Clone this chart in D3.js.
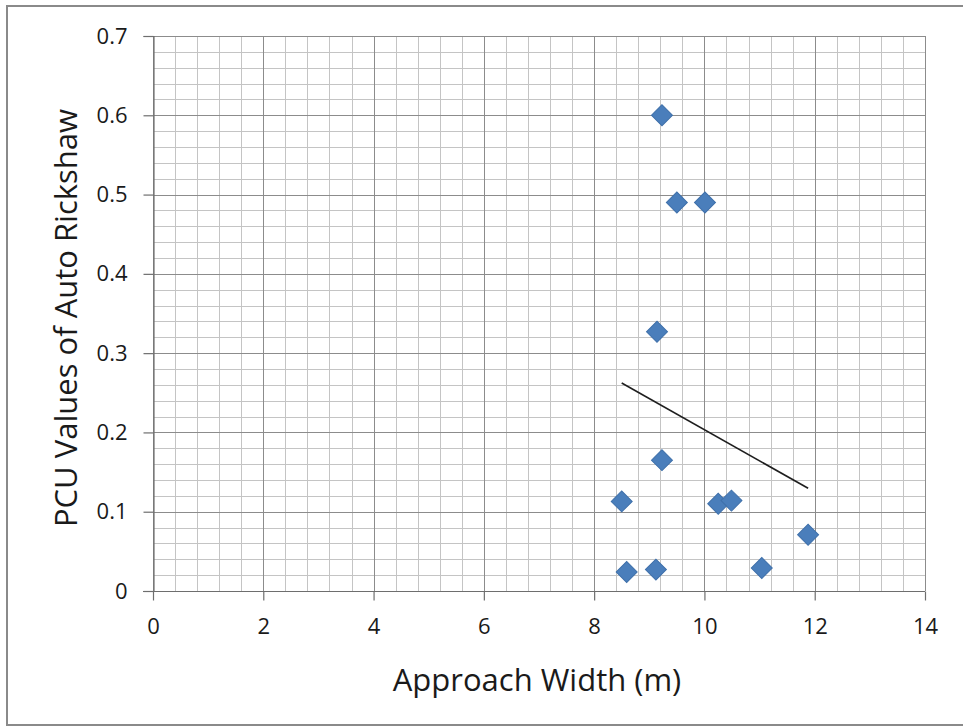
<!DOCTYPE html>
<html>
<head>
<meta charset="utf-8">
<script src="https://cdn.jsdelivr.net/npm/d3@7"></script>
<style>
  html, body { margin: 0; padding: 0; background: #ffffff; }
  svg { display: block; }
  text { font-family: "Open Sans", "DejaVu Sans", sans-serif; fill: #1a1a1a; }
</style>
</head>
<body>
<svg id="chart" width="963" height="727"></svg>
<script>
// Approach width (m) and PCU value of auto rickshaw for each observation
const approachWidth = [9.23, 9.50, 10.01, 9.14, 9.23, 8.50, 10.25, 10.49, 11.88, 8.59, 9.12, 11.04];
const pcuValues     = [0.600, 0.490, 0.490, 0.327, 0.165, 0.113, 0.110, 0.114, 0.071, 0.024, 0.027, 0.029];

// Axis ticks
const xTicks = [0, 2, 4, 6, 8, 10, 12, 14];
const yTicks = [0, 0.1, 0.2, 0.3, 0.4, 0.5, 0.6, 0.7];
const xMinorTicks = d3.range(0, 14.0001, 0.4);
const yMinorTicks = d3.range(0, 0.70001, 0.02);

const xTitle = "Approach Width (m)";
const yTitle = "PCU Values of Auto Rickshaw";

const svg = d3.select("#chart");

const x = d3.scaleLinear().domain([0, 14]).range([153, 925]);
const y = d3.scaleLinear().domain([0, 0.7]).range([591, 36]);

// Frame around the chart
svg.append("rect")
  .attr("x", 7).attr("y", 6)
  .attr("width", 980).attr("height", 719)
  .attr("fill", "none")
  .attr("stroke", "#8a8a8a")
  .attr("stroke-width", 2);

// Minor grid
const grid = svg.append("g");
grid.selectAll(".vminor").data(xMinorTicks).join("line")
  .attr("x1", d => Math.round(x(d)) + 0.5).attr("x2", d => Math.round(x(d)) + 0.5)
  .attr("y1", y(0)).attr("y2", y(0.7))
  .attr("stroke", "#c4c4c4").attr("stroke-width", 1);
grid.selectAll(".hminor").data(yMinorTicks).join("line")
  .attr("y1", d => Math.round(y(d)) + 0.5).attr("y2", d => Math.round(y(d)) + 0.5)
  .attr("x1", x(0)).attr("x2", x(14))
  .attr("stroke", "#c4c4c4").attr("stroke-width", 1);

// Major grid
grid.selectAll(".vmajor").data(xTicks).join("line")
  .attr("x1", d => Math.round(x(d)) + 0.5).attr("x2", d => Math.round(x(d)) + 0.5)
  .attr("y1", y(0)).attr("y2", y(0.7))
  .attr("stroke", "#8c8c8c").attr("stroke-width", 1);
grid.selectAll(".hmajor").data(yTicks).join("line")
  .attr("y1", d => Math.round(y(d)) + 0.5).attr("y2", d => Math.round(y(d)) + 0.5)
  .attr("x1", x(0)).attr("x2", x(14))
  .attr("stroke", "#8c8c8c").attr("stroke-width", 1);

// Axes
const xAxis = svg.append("g")
  .attr("transform", `translate(0,${Math.round(y(0)) + 0.5})`)
  .call(d3.axisBottom(x).tickValues(xTicks).tickSize(9).tickPadding(18).tickFormat(d3.format("d")));
const yAxis = svg.append("g")
  .attr("transform", `translate(${Math.round(x(0)) + 0.5},0)`)
  .call(d3.axisLeft(y).tickValues(yTicks).tickSize(10).tickPadding(16).tickFormat(d => d === 0 ? "0" : d3.format(".1f")(d)));

[xAxis, yAxis].forEach(g => {
  g.select(".domain").attr("stroke", "#6e6e6e").attr("stroke-width", 1.2);
  g.selectAll(".tick line").attr("stroke", "#6e6e6e").attr("stroke-width", 1.2);
  g.selectAll(".tick text")
    .attr("font-family", "'Open Sans', sans-serif")
    .attr("font-size", 22)
    .attr("fill", "#1a1a1a");
});
xAxis.select(".domain").attr("d", `M${x(0) - 10},0H${x(14)}`);

// Linear least-squares trendline over the observed width range
const n = approachWidth.length;
const mx = d3.mean(approachWidth), my = d3.mean(pcuValues);
let sxy = 0, sxx = 0;
for (let i = 0; i < n; i++) {
  sxy += (approachWidth[i] - mx) * (pcuValues[i] - my);
  sxx += (approachWidth[i] - mx) ** 2;
}
const slope = sxy / sxx;
const intercept = my - slope * mx;
const [xMin, xMax] = d3.extent(approachWidth);
const trend = [[xMin, intercept + slope * xMin], [xMax, intercept + slope * xMax]];

svg.append("path")
  .datum(trend)
  .attr("d", d3.line().x(d => x(d[0])).y(d => y(d[1])))
  .attr("fill", "none")
  .attr("stroke", "#1e1e1e")
  .attr("stroke-width", 1.6);

// Diamond markers
const diamond = d3.symbol().type(d3.symbolSquare).size(220);
svg.append("g").selectAll("path")
  .data(d3.range(n))
  .join("path")
  .attr("d", diamond)
  .attr("transform", i => `translate(${x(approachWidth[i])},${y(pcuValues[i])}) rotate(45)`)
  .attr("fill", "#4a7ebb")
  .attr("stroke", "#3f70aa")
  .attr("stroke-width", 1);

// Axis titles
svg.append("text")
  .attr("x", 537).attr("y", 691)
  .attr("text-anchor", "middle")
  .attr("font-size", 31)
  .text(xTitle);

svg.append("text")
  .attr("transform", "translate(77,318) rotate(-90)")
  .attr("text-anchor", "middle")
  .attr("font-size", 31)
  .text(yTitle);
</script>
</body>
</html>
